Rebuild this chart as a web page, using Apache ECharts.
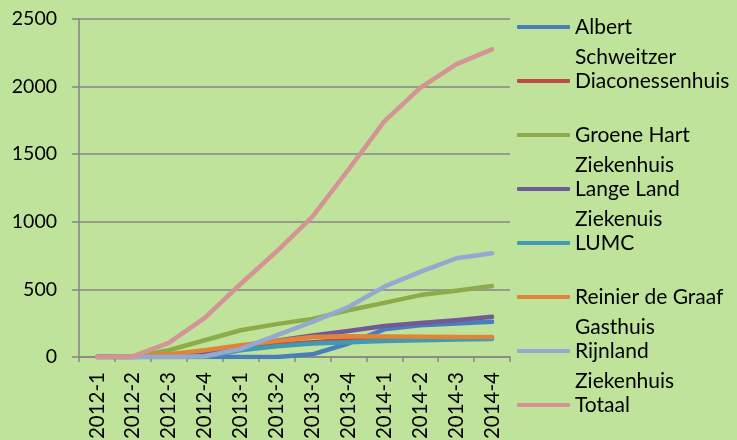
<!DOCTYPE html>
<html>
<head>
<meta charset="utf-8">
<script src="https://cdn.jsdelivr.net/npm/echarts@6/dist/echarts.min.js"></script>
<style>
  html, body { margin: 0; padding: 0; background: #bfe39a; }
  #chart { width: 737px; height: 440px; }
</style>
</head>
<body>
<div id="chart"></div>
<script>
var quarters = ['2012-1', '2012-2', '2012-3', '2012-4', '2013-1', '2013-2', '2013-3', '2013-4', '2014-1', '2014-2', '2014-3', '2014-4'];
var yTicks = [0, 500, 1000, 1500, 2000, 2500];

var albert = [0, 0, 0, 0, 0, 0, 20, 100, 205, 235, 248, 260];
var diaconessenhuis = [0, 0, 8, 28, 60, 90, 110, 125, 130, 135, 138, 140];
var groeneHart = [0, 0, 50, 124, 198, 243, 282, 346, 400, 458, 490, 525];
var langeLand = [0, 0, 10, 30, 70, 120, 160, 193, 230, 252, 272, 297];
var lumc = [0, 0, 0, 0, 50, 80, 99, 109, 119, 124, 129, 134];
var reinier = [0, 0, 20, 50, 87, 119, 148, 153, 151, 149, 148, 148];
var rijnland = [0, 0, 0, 5, 60, 160, 260, 370, 520, 630, 730, 767];
var totaal = [0, 5, 104, 290, 540, 780, 1039, 1385, 1743, 1991, 2164, 2275];

var names = ['Albert Schweitzer', 'Diaconessenhuis', 'Groene Hart Ziekenhuis', 'Lange Land Ziekenuis', 'LUMC', 'Reinier de Graaf Gasthuis', 'Rijnland Ziekenhuis', 'Totaal'];
// legend wraps like the original
var legendLabels = ['Albert\nSchweitzer', 'Diaconessenhuis\n', 'Groene Hart\nZiekenhuis', 'Lange Land\nZiekenuis', 'LUMC\n', 'Reinier de Graaf\nGasthuis', 'Rijnland\nZiekenhuis', 'Totaal\n'];
var colors = ['#4a7ebb', '#be4b48', '#8eab4a', '#725a96', '#3f9ab3', '#e0843a', '#93a9d1', '#d49394'];
var values = [albert, diaconessenhuis, groeneHart, langeLand, lumc, reinier, rijnland, totaal];

var myChart = echarts.init(document.getElementById('chart'));

var seriesArr = names.map(function (n, i) {
    return {
        name: n,
        type: 'line',
        data: values[i],
        symbol: 'none',
        smooth: false,
        color: colors[i],
        lineStyle: { width: 4.5, color: colors[i], cap: 'round', join: 'round' }
    };
});

var option = {
    backgroundColor: '#bfe39a',
    animation: false,
    textStyle: { fontFamily: 'Lato' },
    grid: { left: 79, right: 227, top: 19, bottom: 83, outerBoundsMode: 'none' },
    legend: {
        orient: 'vertical',
        left: 517,
        top: -18,
        height: 500,
        padding: 0,
        itemWidth: 53,
        itemHeight: 4,
        itemGap: -36,
        icon: 'roundRect',
        selectedMode: false,
        data: names,
        formatter: function (name) {
            // blank first line keeps the symbol on the first text line
            return ' \n' + legendLabels[names.indexOf(name)];
        },
        textStyle: { fontSize: 21, color: '#000', lineHeight: 30 }
    },
    xAxis: {
        type: 'category',
        data: quarters,
        boundaryGap: true,
        axisLine: { lineStyle: { color: '#868686', width: 1.5 } },
        axisTick: { show: true, length: 5, lineStyle: { color: '#868686', width: 1.5 } },
        axisLabel: { rotate: 90, fontSize: 20.5, color: '#000', margin: 15, interval: 0 }
    },
    yAxis: {
        type: 'value',
        min: yTicks[0],
        max: yTicks[yTicks.length - 1],
        interval: 500,
        axisLine: { show: true, lineStyle: { color: '#868686', width: 1.5 } },
        axisTick: { show: true, length: 7, lineStyle: { color: '#868686', width: 1.5 } },
        splitLine: { lineStyle: { color: '#868686', width: 1.5 } },
        axisLabel: { fontSize: 19.5, color: '#000', margin: 22, formatter: function (v) { return String(v); } }
    },
    series: seriesArr
};

myChart.setOption(option);
</script>
</body>
</html>
